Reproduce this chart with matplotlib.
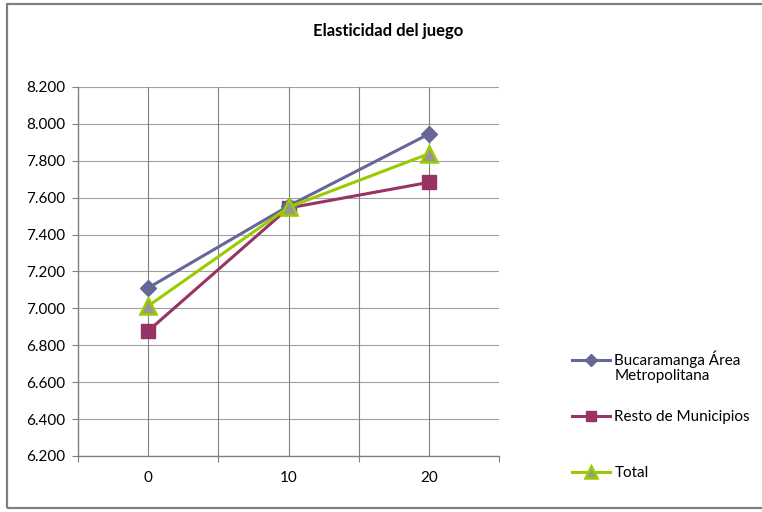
import matplotlib.pyplot as plt
from matplotlib.patches import Rectangle
from matplotlib.ticker import FuncFormatter, FixedLocator

plt.rcParams['font.family'] = ['Lato', 'DejaVu Sans']

# datos
categorias = ['0', '10', '20']
bucaramanga = [7.111, 7.555, 7.945]
resto = [6.878, 7.544, 7.683]
total = [7.013, 7.548, 7.838]

x = list(range(len(categorias)))

fig = plt.figure(figsize=(7.62, 5.12), dpi=100)
ax = fig.add_axes([0.1024, 0.1094, 0.5525, 0.7207])

# marco del grafico
fig.patches.append(Rectangle((0.009, 0.008), 1.2, 0.984, transform=fig.transFigure,
                             fill=False, edgecolor='#808080', linewidth=1.6))

l1, = ax.plot(x, bucaramanga, color='#666699', linewidth=2.2, marker='D',
              markersize=8, markerfacecolor='#666699', markeredgecolor='#666699',
              label='Bucaramanga Área', clip_on=False, zorder=4)
l2, = ax.plot(x, resto, color='#993366', linewidth=2.2, marker='s',
              markersize=10, markerfacecolor='#993366', markeredgecolor='#993366',
              label='Resto de Municipios', clip_on=False, zorder=3)
l3, = ax.plot(x, total, color='#99CC00', linewidth=2.2, marker='^',
              markersize=11, markerfacecolor='#969696', markeredgecolor='#99CC00',
              markeredgewidth=1.8, label='Total', clip_on=False, zorder=5)

ax.set_xlim(-0.5, 2.5)
ax.set_ylim(6.2, 8.2)
ax.set_yticks([6.2 + 0.2 * i for i in range(11)])
ax.yaxis.set_major_formatter(FuncFormatter(lambda v, p: f'{v:.3f}'))

# ticks de categorias en los limites, etiquetas en el centro
ax.xaxis.set_major_locator(FixedLocator([-0.5, 0.5, 1.5, 2.5]))
ax.set_xticklabels([])
ax.xaxis.set_minor_locator(FixedLocator(x))
ax.set_xticklabels(categorias, minor=True)
ax.tick_params(axis='x', which='minor', length=0, pad=11, labelsize=11)
ax.tick_params(axis='x', which='major', length=4, color='#808080', direction='out')
ax.tick_params(axis='y', length=4, color='#808080', direction='out', labelsize=11, pad=5)

ax.grid(True, axis='y', color='#a0a0a0', linewidth=0.8)
for xv in [0, 0.5, 1, 1.5, 2]:
    ax.axvline(xv, color='#808080', linewidth=0.8, zorder=1)
ax.set_axisbelow(True)

for s in ['top', 'right']:
    ax.spines[s].set_visible(False)
for s in ['left', 'bottom']:
    ax.spines[s].set_color('#808080')
    ax.spines[s].set_linewidth(1.0)

fig.text(0.51, 0.94, 'Elasticidad del juego', ha='center', va='center',
         fontsize=12, fontweight='bold')

leg = fig.legend(handles=[l1, l2, l3], loc='upper left',
                 bbox_to_anchor=(0.742, 0.327), frameon=False, fontsize=11,
                 handlelength=2.5, handletextpad=0.3, labelspacing=2.75,
                 borderaxespad=0, markerscale=0.75)
fig.text(0.806, 0.265, 'Metropolitana', fontsize=11, ha='left', va='center')

fig.savefig('out.png', dpi=100)
